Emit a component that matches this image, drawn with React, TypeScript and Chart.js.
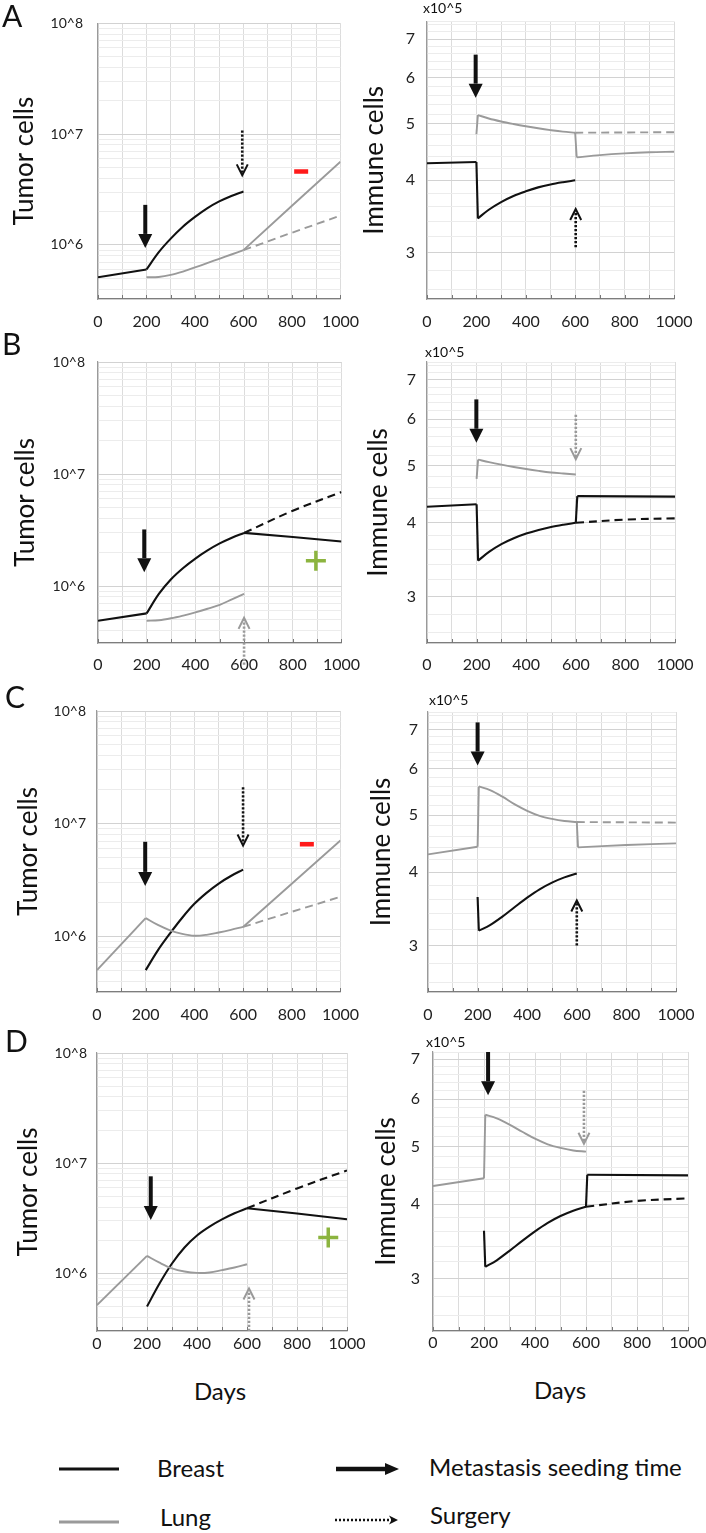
import React, { useEffect, useRef } from "react";
import { Chart, registerables } from "chart.js";

Chart.register(...registerables);

type P = [number, number];

const FONT = "Lato, 'Open Sans', sans-serif";
const BLACK = "#111111";
const GREY = "#9a9a9a";
const RED = "#ff1a1a";
const GREEN = "#8cb43f";

// ---------- axes ----------
const DAY_TICKS = [0, 100, 200, 300, 400, 500, 600, 700, 800, 900, 1000];
const DAY_LABEL_STEP = 200;
const TUMOR_MAJOR = [1e6, 1e7, 1e8];
const TUMOR_MAJOR_LABELS = ["10^6", "10^7", "10^8"];
const TUMOR_MINOR = [1e5, 1e6, 1e7].flatMap((d) => [2, 3, 4, 5, 6, 7, 8, 9].map((m) => m * d));
const IMMUNE_MAJOR = [3, 4, 5, 6, 7];
const IMMUNE_MAJOR_LABELS = ["3", "4", "5", "6", "7"];
const IMMUNE_MINOR = [2.6, 2.8, 3.2, 3.4, 3.6, 3.8, 4.2, 4.4, 4.6, 4.8, 5.2, 5.4, 5.6, 5.8, 6.2, 6.4, 6.6, 6.8, 7.2, 7.4];

// ---------- A : tumor ----------
const A_T_BREAST_PRE: P[] = [[0, 5.1e5], [200, 6.0e5]];
const A_T_BREAST_POST: P[] = [[200, 6.0e5], [250, 8.57e5], [300, 1.14e6], [350, 1.46e6], [400, 1.79e6], [450, 2.14e6], [500, 2.47e6], [550, 2.77e6], [600, 3.04e6]];
const A_T_LUNG_PRE: P[] = [[200, 5.1e5], [250, 5.14e5], [300, 5.36e5], [350, 5.75e5], [400, 6.27e5], [450, 6.85e5], [500, 7.5e5], [550, 8.2e5], [600, 8.97e5]];
const A_T_LUNG_POSTSURG: P[] = [[600, 8.97e5], [800, 2.26e6], [1000, 5.65e6]];
const A_T_LUNG_NOSURG: P[] = [[600, 8.97e5], [800, 1.29e6], [1000, 1.84e6]];
// ---------- A : immune (x10^5) ----------
const A_I_BREAST_PRE: P[] = [[0, 4.28], [200, 4.3]];
const A_I_BREAST_DROP: P[] = [[200, 4.3], [206, 3.44]];
const A_I_BREAST_POST: P[] = [[206, 3.44], [250, 3.56], [300, 3.67], [350, 3.76], [400, 3.83], [450, 3.89], [500, 3.935], [550, 3.97], [600, 4.0]];
const A_I_LUNG_JUMP: P[] = [[200, 4.8], [206, 5.18]];
const A_I_LUNG_DECAY: P[] = [[206, 5.18], [250, 5.11], [300, 5.05], [350, 5.0], [400, 4.955], [450, 4.915], [500, 4.88], [550, 4.85], [600, 4.83]];
const A_I_LUNG_DROP: P[] = [[600, 4.83], [606, 4.38]];
const A_I_LUNG_POSTSURG: P[] = [[606, 4.38], [700, 4.42], [800, 4.45], [900, 4.47], [1000, 4.48]];
const A_I_LUNG_NOSURG: P[] = [[600, 4.83], [1000, 4.84]];

// ---------- B : tumor ----------
const B_T_BREAST_PRE: P[] = [[0, 4.9e5], [200, 5.7e5]];
const B_T_BREAST_POST: P[] = [[200, 5.7e5], [250, 8.5e5], [300, 1.15e6], [350, 1.45e6], [400, 1.76e6], [450, 2.08e6], [500, 2.4e6], [550, 2.7e6], [600, 2.98e6]];
const B_T_BREAST_POSTSURG: P[] = [[600, 2.98e6], [800, 2.74e6], [1000, 2.5e6]];
const B_T_BREAST_NOSURG: P[] = [[600, 2.98e6], [800, 4.7e6], [1000, 6.9e6]];
const B_T_LUNG: P[] = [[200, 4.9e5], [250, 4.95e5], [300, 5.15e5], [350, 5.45e5], [400, 5.82e5], [450, 6.27e5], [500, 6.8e5], [550, 7.6e5], [600, 8.5e5]];
// ---------- B : immune ----------
const B_I_BREAST_PRE: P[] = [[0, 4.26], [200, 4.3]];
const B_I_BREAST_DROP: P[] = [[200, 4.3], [206, 3.45]];
const B_I_BREAST_POST: P[] = [[206, 3.45], [250, 3.57], [300, 3.68], [350, 3.765], [400, 3.835], [450, 3.89], [500, 3.935], [550, 3.97], [600, 4.0]];
const B_I_BREAST_JUMP: P[] = [[600, 4.0], [606, 4.44]];
const B_I_BREAST_POSTSURG: P[] = [[606, 4.44], [1000, 4.43]];
const B_I_BREAST_NOSURG: P[] = [[600, 4.0], [800, 4.05], [1000, 4.07]];
const B_I_LUNG_JUMP: P[] = [[200, 4.75], [206, 5.12]];
const B_I_LUNG_DECAY: P[] = [[206, 5.12], [250, 5.07], [300, 5.02], [350, 4.975], [400, 4.935], [450, 4.9], [500, 4.87], [550, 4.85], [600, 4.83]];

// ---------- C : tumor ----------
const C_T_LUNG_PRE: P[] = [[0, 5.0e5], [200, 1.45e6]];
const C_T_LUNG_MID: P[] = [[200, 1.45e6], [250, 1.26e6], [300, 1.13e6], [350, 1.05e6], [400, 1.01e6], [450, 1.03e6], [500, 1.08e6], [550, 1.14e6], [600, 1.21e6]];
const C_T_LUNG_POSTSURG: P[] = [[600, 1.21e6], [800, 2.93e6], [1000, 7.1e6]];
const C_T_LUNG_NOSURG: P[] = [[600, 1.21e6], [800, 1.65e6], [1000, 2.24e6]];
const C_T_BREAST: P[] = [[200, 5.0e5], [250, 7.5e5], [300, 1.06e6], [350, 1.46e6], [400, 1.94e6], [450, 2.43e6], [500, 2.94e6], [550, 3.43e6], [600, 3.9e6]];
// ---------- C : immune ----------
const C_I_LUNG_PRE: P[] = [[0, 4.29], [200, 4.42]];
const C_I_LUNG_JUMP: P[] = [[200, 4.42], [205, 5.6]];
const C_I_LUNG_DECAY: P[] = [[205, 5.6], [250, 5.52], [300, 5.38], [350, 5.22], [400, 5.09], [450, 4.99], [500, 4.93], [550, 4.89], [600, 4.87]];
const C_I_LUNG_DROP: P[] = [[600, 4.87], [605, 4.41]];
const C_I_LUNG_POSTSURG: P[] = [[605, 4.41], [800, 4.45], [1000, 4.48]];
const C_I_LUNG_NOSURG: P[] = [[600, 4.87], [1000, 4.86]];
const C_I_BREAST_DROP: P[] = [[200, 3.63], [205, 3.18]];
const C_I_BREAST_POST: P[] = [[205, 3.18], [250, 3.25], [300, 3.36], [350, 3.49], [400, 3.62], [450, 3.74], [500, 3.84], [550, 3.92], [600, 3.98]];

// ---------- D : tumor ----------
const D_T_LUNG_PRE: P[] = [[0, 5.15e5], [200, 1.44e6]];
const D_T_LUNG_MID: P[] = [[200, 1.44e6], [250, 1.25e6], [300, 1.11e6], [350, 1.04e6], [400, 1.01e6], [450, 1.02e6], [500, 1.07e6], [550, 1.13e6], [600, 1.21e6]];
const D_T_BREAST: P[] = [[200, 5.0e5], [250, 8.1e5], [300, 1.23e6], [350, 1.72e6], [400, 2.21e6], [450, 2.66e6], [500, 3.09e6], [550, 3.51e6], [600, 3.9e6]];
const D_T_BREAST_POSTSURG: P[] = [[600, 3.9e6], [800, 3.5e6], [1000, 3.1e6]];
const D_T_BREAST_NOSURG: P[] = [[600, 3.9e6], [800, 5.9e6], [1000, 8.6e6]];
// ---------- D : immune ----------
const D_I_LUNG_PRE: P[] = [[0, 4.29], [200, 4.42]];
const D_I_LUNG_JUMP: P[] = [[200, 4.42], [205, 5.65]];
const D_I_LUNG_DECAY: P[] = [[205, 5.65], [250, 5.57], [300, 5.44], [350, 5.29], [400, 5.15], [450, 5.04], [500, 4.97], [550, 4.92], [600, 4.9]];
const D_I_BREAST_DROP: P[] = [[200, 3.61], [205, 3.14]];
const D_I_BREAST_POST: P[] = [[205, 3.14], [250, 3.22], [300, 3.34], [350, 3.47], [400, 3.6], [450, 3.72], [500, 3.82], [550, 3.9], [600, 3.96]];
const D_I_BREAST_JUMP: P[] = [[600, 3.96], [605, 4.48]];
const D_I_BREAST_POSTSURG: P[] = [[605, 4.48], [1000, 4.47]];
const D_I_BREAST_NOSURG: P[] = [[600, 3.96], [800, 4.05], [1000, 4.09]];

// ---------- arrows: [day, from], [day, to] ----------
const A_T_SEED: P[] = [[195, 2.3e6], [195, 9.4e5]];
const A_T_SURG: P[] = [[595, 1.08e7], [595, 4.25e6]];
const A_I_SEED: P[] = [[197, 6.58], [197, 5.55]];
const A_I_SURG: P[] = [[602, 3.07], [602, 3.57]];
const B_T_SEED: P[] = [[190, 3.2e6], [190, 1.33e6]];
const B_T_SURG: P[] = [[600, 1.98e5], [600, 5.2e5]];
const B_I_SEED: P[] = [[199, 6.48], [199, 5.47]];
const B_I_SURG: P[] = [[600, 6.1], [600, 5.13]];
const C_T_SEED: P[] = [[198, 6.9e6], [198, 2.8e6]];
const C_T_SURG: P[] = [[600, 2.1e7], [600, 6.4e6]];
const C_I_SEED: P[] = [[200, 7.2], [200, 6.08]];
const C_I_SURG: P[] = [[600, 3.0], [600, 3.58]];
const D_T_SEED: P[] = [[215, 7.6e6], [215, 3.05e6]];
const D_T_SURG: P[] = [[608, 3.0e5], [608, 7.3e5]];
const D_I_SEED: P[] = [[216, 7.2], [216, 6.09]];
const D_I_SURG: P[] = [[592, 6.2], [592, 5.05]];

// ---------- outcome markers ----------
const A_MINUS: P = [838, 4.6e6];
const B_PLUS: P = [895, 1.68e6];
const C_MINUS: P = [862, 6.55e6];
const D_PLUS: P = [925, 2.12e6];

interface Piece { pts: P[]; color: string; dash?: boolean; smooth?: boolean }
interface Arrow { pts: P[]; dotted: boolean; color: string }
interface Marker { pt: P; kind: "plus" | "minus" }
interface Frame { cx: number; cy: number; cw: number; L: number; T: number; R: number; B: number; labelPad: number; yTickPad: number; titleX: number }
interface Panel { kind: "tumor" | "immune"; yMin: number; yMax: number; pieces: Piece[]; arrows: Arrow[]; markers: Marker[]; frame: Frame }

const pc = (pts: P[], color: string, smooth = false, dash = false): Piece => ({ pts, color, smooth, dash });

const PANELS: Panel[] = [
  {
    kind: "tumor", yMin: 3.25e5, yMax: 1e8,
    pieces: [pc(A_T_BREAST_PRE, BLACK), pc(A_T_BREAST_POST, BLACK, true), pc(A_T_LUNG_PRE, GREY, true), pc(A_T_LUNG_POSTSURG, GREY), pc(A_T_LUNG_NOSURG, GREY, false, true)],
    arrows: [{ pts: A_T_SEED, dotted: false, color: BLACK }, { pts: A_T_SURG, dotted: true, color: BLACK }],
    markers: [{ pt: A_MINUS, kind: "minus" }],
    frame: { cx: 0, cy: 0, cw: 372, L: 98, T: 18, R: 348, B: 299, labelPad: 13, yTickPad: 15, titleX: 25 },
  },
  {
    kind: "immune", yMin: 2.5, yMax: 7.5,
    pieces: [pc(A_I_BREAST_PRE, BLACK), pc(A_I_BREAST_DROP, BLACK), pc(A_I_BREAST_POST, BLACK, true), pc(A_I_LUNG_JUMP, GREY), pc(A_I_LUNG_DECAY, GREY, true), pc(A_I_LUNG_DROP, GREY), pc(A_I_LUNG_POSTSURG, GREY, true), pc(A_I_LUNG_NOSURG, GREY, false, true)],
    arrows: [{ pts: A_I_SEED, dotted: false, color: BLACK }, { pts: A_I_SURG, dotted: true, color: BLACK }],
    markers: [],
    frame: { cx: 340, cy: 0, cw: 380, L: 427, T: 20, R: 674, B: 299, labelPad: 13, yTickPad: 12, titleX: 375 },
  },
  {
    kind: "tumor", yMin: 3.1e5, yMax: 1e8,
    pieces: [pc(B_T_BREAST_PRE, BLACK), pc(B_T_BREAST_POST, BLACK, true), pc(B_T_BREAST_POSTSURG, BLACK), pc(B_T_BREAST_NOSURG, BLACK, true, true), pc(B_T_LUNG, GREY, true)],
    arrows: [{ pts: B_T_SEED, dotted: false, color: BLACK }, { pts: B_T_SURG, dotted: true, color: GREY }],
    markers: [{ pt: B_PLUS, kind: "plus" }],
    frame: { cx: 0, cy: 335, cw: 372, L: 98, T: 362, R: 348, B: 643, labelPad: 12, yTickPad: 13, titleX: 26 },
  },
  {
    kind: "immune", yMin: 2.5, yMax: 7.5,
    pieces: [pc(B_I_BREAST_PRE, BLACK), pc(B_I_BREAST_DROP, BLACK), pc(B_I_BREAST_POST, BLACK, true), pc(B_I_BREAST_JUMP, BLACK), pc(B_I_BREAST_POSTSURG, BLACK), pc(B_I_BREAST_NOSURG, BLACK, true, true), pc(B_I_LUNG_JUMP, GREY), pc(B_I_LUNG_DECAY, GREY, true)],
    arrows: [{ pts: B_I_SEED, dotted: false, color: BLACK }, { pts: B_I_SURG, dotted: true, color: GREY }],
    markers: [],
    frame: { cx: 340, cy: 335, cw: 380, L: 427, T: 362, R: 675, B: 643, labelPad: 12, yTickPad: 11, titleX: 379 },
  },
  {
    kind: "tumor", yMin: 3.2e5, yMax: 1e8,
    pieces: [pc(C_T_LUNG_PRE, GREY), pc(C_T_LUNG_MID, GREY, true), pc(C_T_LUNG_POSTSURG, GREY), pc(C_T_LUNG_NOSURG, GREY, false, true), pc(C_T_BREAST, BLACK, true)],
    arrows: [{ pts: C_T_SEED, dotted: false, color: BLACK }, { pts: C_T_SURG, dotted: true, color: BLACK }],
    markers: [{ pt: C_MINUS, kind: "minus" }],
    frame: { cx: 0, cy: 685, cw: 372, L: 97, T: 711, R: 348, B: 992, labelPad: 13, yTickPad: 11, titleX: 29 },
  },
  {
    kind: "immune", yMin: 2.5, yMax: 7.5,
    pieces: [pc(C_I_LUNG_PRE, GREY), pc(C_I_LUNG_JUMP, GREY), pc(C_I_LUNG_DECAY, GREY, true), pc(C_I_LUNG_DROP, GREY), pc(C_I_LUNG_POSTSURG, GREY, true), pc(C_I_LUNG_NOSURG, GREY, false, true), pc(C_I_BREAST_DROP, BLACK), pc(C_I_BREAST_POST, BLACK, true)],
    arrows: [{ pts: C_I_SEED, dotted: false, color: BLACK }, { pts: C_I_SURG, dotted: true, color: BLACK }],
    markers: [],
    frame: { cx: 340, cy: 685, cw: 380, L: 428, T: 712, R: 676, B: 992, labelPad: 13, yTickPad: 10, titleX: 382 },
  },
  {
    kind: "tumor", yMin: 3.0e5, yMax: 1e8,
    pieces: [pc(D_T_LUNG_PRE, GREY), pc(D_T_LUNG_MID, GREY, true), pc(D_T_BREAST, BLACK, true), pc(D_T_BREAST_POSTSURG, BLACK), pc(D_T_BREAST_NOSURG, BLACK, true, true)],
    arrows: [{ pts: D_T_SEED, dotted: false, color: BLACK }, { pts: D_T_SURG, dotted: true, color: GREY }],
    markers: [{ pt: D_PLUS, kind: "plus" }],
    frame: { cx: 0, cy: 1025, cw: 372, L: 97, T: 1053, R: 347, B: 1331, labelPad: 3, yTickPad: 10, titleX: 29 },
  },
  {
    kind: "immune", yMin: 2.45, yMax: 7.2,
    pieces: [pc(D_I_LUNG_PRE, GREY), pc(D_I_LUNG_JUMP, GREY), pc(D_I_LUNG_DECAY, GREY, true), pc(D_I_BREAST_DROP, BLACK), pc(D_I_BREAST_POST, BLACK, true), pc(D_I_BREAST_JUMP, BLACK), pc(D_I_BREAST_POSTSURG, BLACK), pc(D_I_BREAST_NOSURG, BLACK, true, true)],
    arrows: [{ pts: D_I_SEED, dotted: false, color: BLACK }, { pts: D_I_SURG, dotted: true, color: GREY }],
    markers: [],
    frame: { cx: 340, cy: 1025, cw: 380, L: 433, T: 1052, R: 688, B: 1331, labelPad: 2, yTickPad: 13, titleX: 387 },
  },
];

const X_AXIS_H = 36;

function drawArrow(ctx: CanvasRenderingContext2D, x: number, y0: number, y1: number, dotted: boolean, color: string) {
  const dir = Math.sign(y1 - y0) || 1;
  ctx.save();
  ctx.strokeStyle = color;
  ctx.fillStyle = color;
  if (!dotted) {
    const head = 14;
    ctx.lineWidth = 4;
    ctx.beginPath();
    ctx.moveTo(x, y0);
    ctx.lineTo(x, y1 - dir * head);
    ctx.stroke();
    ctx.beginPath();
    ctx.moveTo(x, y1);
    ctx.lineTo(x - 7, y1 - dir * head);
    ctx.lineTo(x + 7, y1 - dir * head);
    ctx.closePath();
    ctx.fill();
  } else {
    ctx.lineWidth = 2.6;
    ctx.setLineDash([2.2, 1.8]);
    ctx.beginPath();
    ctx.moveTo(x, y0);
    ctx.lineTo(x, y1 - dir * 2);
    ctx.stroke();
    ctx.setLineDash([]);
    ctx.lineWidth = 2;
    ctx.beginPath();
    ctx.moveTo(x - 5.5, y1 - dir * 11);
    ctx.lineTo(x, y1);
    ctx.lineTo(x + 5.5, y1 - dir * 11);
    ctx.stroke();
  }
  ctx.restore();
}

function PanelChart({ panel }: { panel: Panel }) {
  const ref = useRef<HTMLCanvasElement>(null);
  const f = panel.frame;
  const ch = f.B + X_AXIS_H - f.cy;
  useEffect(() => {
    const isT = panel.kind === "tumor";
    const majors = isT ? TUMOR_MAJOR : IMMUNE_MAJOR;
    const majorLabels = isT ? TUMOR_MAJOR_LABELS : IMMUNE_MAJOR_LABELS;
    const minors = isT ? TUMOR_MINOR : IMMUNE_MINOR;
    const yTicks = Array.from(new Set([panel.yMin, ...majors, ...minors, panel.yMax]))
      .filter((v) => v >= panel.yMin && v <= panel.yMax)
      .sort((a, b) => a - b);

    const datasets: any[] = panel.pieces.map((p) => ({
      type: "line",
      data: p.pts.map(([x, y]) => ({ x, y })),
      borderColor: p.color,
      borderWidth: p.color === BLACK ? 2.1 : 1.9,
      borderDash: p.dash ? [8, 5] : [],
      pointRadius: 0,
      fill: false,
      tension: p.smooth ? 0.35 : 0,
    }));
    panel.markers.forEach((m) => {
      datasets.push({
        type: "line",
        data: [{ x: m.pt[0], y: m.pt[1] }],
        showLine: false,
        pointStyle: m.kind === "plus" ? "cross" : "line",
        pointRadius: m.kind === "plus" ? 10 : 7,
        pointBorderWidth: m.kind === "plus" ? 3.5 : 4.5,
        pointBorderColor: m.kind === "plus" ? GREEN : RED,
        pointBackgroundColor: m.kind === "plus" ? GREEN : RED,
      });
    });

    const overlay = {
      id: "overlay",
      afterDatasetsDraw(chart: any) {
        const { ctx, chartArea, scales } = chart;
        ctx.save();
        ctx.strokeStyle = "#777";
        ctx.lineWidth = 1;
        DAY_TICKS.forEach((d) => {
          const px = Math.round(scales.x.getPixelForValue(d)) + 0.5;
          ctx.beginPath();
          ctx.moveTo(px, chartArea.bottom);
          ctx.lineTo(px, chartArea.bottom - 4);
          ctx.stroke();
        });
        ctx.restore();
        panel.arrows.forEach((a) => {
          const x = scales.x.getPixelForValue(a.pts[0][0]);
          const y0 = scales.y.getPixelForValue(a.pts[0][1]);
          const y1 = scales.y.getPixelForValue(a.pts[1][1]);
          drawArrow(ctx, x, y0, y1, a.dotted, a.color);
        });
      },
    };

    const chart = new Chart(ref.current as HTMLCanvasElement, {
      type: "line",
      data: { datasets },
      plugins: [overlay],
      options: {
        responsive: false,
        animation: false,
        events: [],
        layout: { padding: { left: 0, top: f.T - f.cy, right: f.cx + f.cw - f.R, bottom: 0 } },
        plugins: { legend: { display: false }, tooltip: { enabled: false } },
        scales: {
          x: {
            type: "linear",
            min: 0,
            max: 1000,
            afterBuildTicks: (s: any) => { s.ticks = DAY_TICKS.map((v) => ({ value: v })); },
            afterFit: (s: any) => { s.height = X_AXIS_H; },
            ticks: {
              autoSkip: false,
              maxRotation: 0,
              padding: f.labelPad,
              color: "#222",
              font: { family: FONT, size: 16 },
              callback: (v: any) => (Number(v) % DAY_LABEL_STEP === 0 ? String(v) : ""),
            },
            grid: { color: "#dcdcdc", drawTicks: false, lineWidth: 1 },
            border: { color: "#7d7d7d", width: 1.3 },
          },
          y: {
            type: "logarithmic",
            min: panel.yMin,
            max: panel.yMax,
            afterBuildTicks: (s: any) => { s.ticks = yTicks.map((v) => ({ value: v })); },
            afterFit: (s: any) => { s.width = f.L - f.cx; },
            ticks: {
              autoSkip: false,
              padding: f.yTickPad,
              color: "#222",
              font: { family: FONT, size: isT ? 14 : 16 },
              callback: (v: any) => {
                const i = majors.indexOf(Number(v));
                return i >= 0 ? majorLabels[i] : "";
              },
            },
            grid: {
              drawTicks: false,
              lineWidth: 1,
              color: (c: any) => (c.tick && majors.includes(c.tick.value) ? "#d2d2d2" : "#ececec"),
            },
            border: { color: "#9a9a9a", width: 1.2 },
            title: {
              display: true,
              text: isT ? "Tumor cells" : "Immune cells",
              color: "#111",
              font: { family: FONT, size: 26 },
              padding: { top: f.titleX - f.cx - 15.6, bottom: 0 },
            },
          },
        },
      } as any,
    });
    return () => chart.destroy();
  }, []);
  return (
    <canvas
      ref={ref}
      width={f.cw}
      height={ch}
      style={{ position: "absolute", left: f.cx, top: f.cy, width: f.cw, height: ch }}
    />
  );
}

function Txt({ text, x, base, size, center }: { text: string; x: number; base: number; size: number; center?: boolean }) {
  return (
    <div
      style={{
        position: "absolute",
        left: x,
        top: base - 0.887 * size,
        fontSize: size,
        lineHeight: 1,
        fontFamily: FONT,
        color: "#111",
        whiteSpace: "nowrap",
        transform: center ? "translateX(-50%)" : undefined,
      }}
    >
      {text}
    </div>
  );
}

export default function App() {
  return (
    <div style={{ position: "absolute", left: 0, top: 0, width: 706, height: 1533, overflow: "hidden", background: "#fff" }}>
      {PANELS.map((p, i) => (
        <PanelChart key={i} panel={p} />
      ))}
      <Txt text="A" x={2} base={27} size={30} />
      <Txt text="B" x={2} base={355} size={30} />
      <Txt text="C" x={5} base={708} size={30} />
      <Txt text="D" x={5} base={1052} size={30} />
      <Txt text="x10^5" x={423} base={13} size={14} />
      <Txt text="x10^5" x={425} base={357} size={14} />
      <Txt text="x10^5" x={429} base={705} size={14} />
      <Txt text="x10^5" x={426} base={1047} size={14} />
      <Txt text="Days" x={220} base={1400} size={24} center />
      <Txt text="Days" x={560} base={1399} size={24} center />
      <Txt text="Breast" x={157} base={1477} size={24} />
      <Txt text="Lung" x={160} base={1526} size={24} />
      <Txt text="Metastasis seeding time" x={429} base={1476} size={24} />
      <Txt text="Surgery" x={430} base={1524} size={24} />
      <svg style={{ position: "absolute", left: 0, top: 1440 }} width={706} height={93}>
        <line x1={59} x2={119} y1={29} y2={29} stroke={BLACK} strokeWidth={3} />
        <line x1={59} x2={119} y1={82} y2={82} stroke={GREY} strokeWidth={3} />
        <line x1={336} x2={388} y1={29} y2={29} stroke={BLACK} strokeWidth={4.5} />
        <polygon points="385,23 399,29 385,35" fill={BLACK} />
        <line x1={335} x2={392} y1={80} y2={80} stroke={BLACK} strokeWidth={2.5} strokeDasharray="2 2" />
        <polygon points="389,75.5 398,80 389,84.5 391.5,80" fill={BLACK} />
      </svg>
    </div>
  );
}
